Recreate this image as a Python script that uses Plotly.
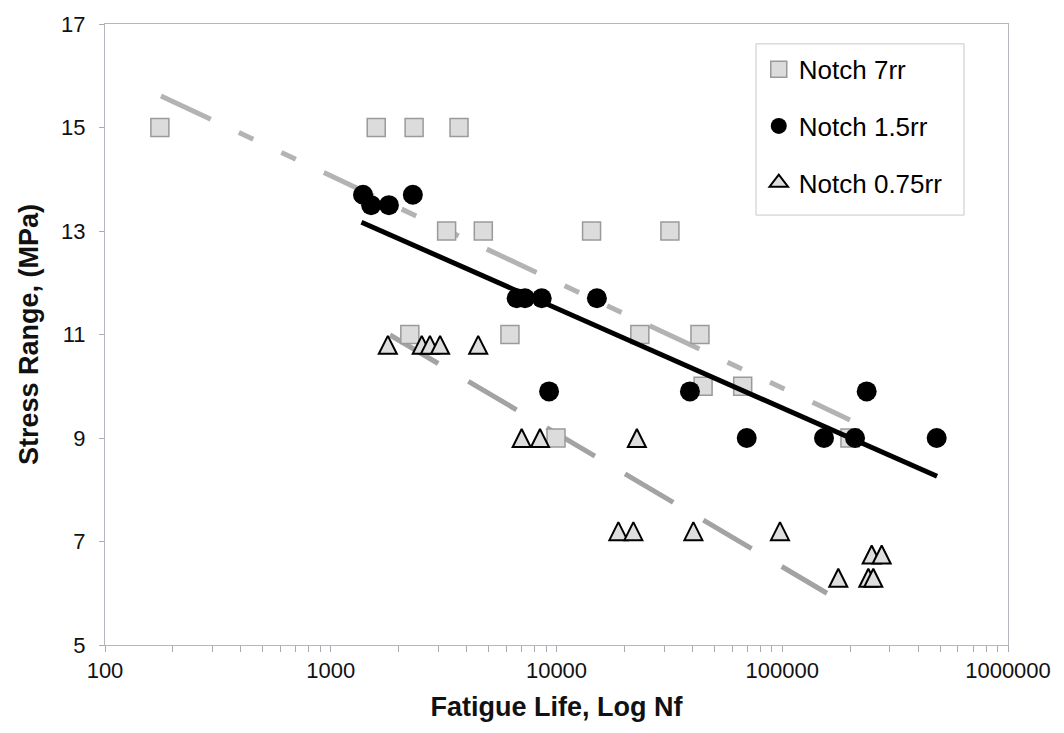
import plotly.graph_objects as go

# ---- data: fatigue life (cycles) vs stress range (MPa) ----
notch7_life = [175, 1590, 2340, 3700, 3260, 4740, 14300, 31800, 2240, 6220,
               23400, 43200, 44600, 66800, 9950, 199500]
notch7_stress = [15, 15, 15, 15, 13, 13, 13, 13, 11, 11, 11, 11, 10, 10, 9, 9]

notch15_life = [1390, 1510, 1810, 2310, 6660, 7250, 8600, 15100, 9270, 39000,
                236600, 69600, 153100, 210100, 483100]
notch15_stress = [13.7, 13.5, 13.5, 13.7, 11.7, 11.7, 11.7, 11.7, 9.9, 9.9,
                  9.9, 9, 9, 9, 9]

notch075_life = [1790, 2530, 2750, 3050, 4500, 7010, 8450, 22700, 18800, 21900,
                 40400, 97700, 249000, 275700, 177100, 240600, 253100]
notch075_stress = [10.8, 10.8, 10.8, 10.8, 10.8, 9, 9, 9, 7.2, 7.2,
                   7.2, 7.2, 6.75, 6.75, 6.3, 6.3, 6.3]

# trend line end points (life, stress)
trend7_life = [177, 199500]
trend7_stress = [15.61, 9.35]
trend15_life = [1368, 484900]
trend15_stress = [13.17, 8.26]
trend075_life = [1830, 157800]
trend075_stress = [10.99, 6.0]

x_tick_vals = [100, 1000, 10000, 100000, 1000000]
x_tick_text = ["100", "1000", "10000", "100000", "1000000"]
y_tick_vals = [5, 7, 9, 11, 13, 15, 17]

FONT = "Arial, 'Liberation Sans', sans-serif"
AXIS_GREY = "#b4b6be"

fig = go.Figure()

# trend lines (drawn beneath the markers)
fig.add_trace(go.Scatter(
    x=trend7_life, y=trend7_stress, mode="lines", showlegend=False,
    hoverinfo="skip",
    line=dict(color="#b3b3b3", width=5,
              dash="55px,31px,16px,31px,16px,31px")))
fig.add_trace(go.Scatter(
    x=trend075_life, y=trend075_stress, mode="lines", showlegend=False,
    hoverinfo="skip",
    line=dict(color="#a3a3a3", width=5, dash="56px,35px")))

fig.add_trace(go.Scatter(
    x=notch7_life, y=notch7_stress, mode="markers", name="Notch 7rr",
    legendgroup="n7",
    marker=dict(symbol="square", size=18, color="#dcdcdc",
                line=dict(color="#9a9a9a", width=1.5))))

fig.add_trace(go.Scatter(
    x=notch15_life, y=notch15_stress, mode="markers", name="Notch 1.5rr",
    legendgroup="n15",
    marker=dict(symbol="circle", size=20, color="#000000",
                line=dict(color="#000000", width=0))))

fig.add_trace(go.Scatter(
    x=trend15_life, y=trend15_stress, mode="lines", showlegend=False,
    hoverinfo="skip",
    line=dict(color="#000000", width=5)))

# upward triangles: a flipped arrow symbol, re-centred on the point
fig.add_trace(go.Scatter(
    x=notch075_life, y=notch075_stress, mode="markers", name="Notch 0.75rr",
    legendgroup="n075", showlegend=False,
    marker=dict(symbol="arrow-down", angle=180, standoff=9, size=18,
                color="#dedede", line=dict(color="#000000", width=2))))
# legend key for the triangles (the legend ignores marker standoff)
fig.add_trace(go.Scatter(
    x=[None], y=[None], mode="markers", name="Notch 0.75rr",
    legendgroup="n075", showlegend=True,
    marker=dict(symbol="triangle-up", size=16, color="#dedede",
                line=dict(color="#000000", width=2))))

# legend frame
fig.add_shape(type="rect", xref="paper", yref="paper",
              x0=0.7209, x1=0.9513, y0=0.6923, y1=0.968,
              layer="above", fillcolor="white",
              line=dict(color="#c8c8c8", width=1))

fig.update_layout(
    width=1064, height=733,
    margin=dict(l=105, r=56, t=21, b=88),
    paper_bgcolor="white", plot_bgcolor="white",
    font=dict(family=FONT, color="#000000"),
    showlegend=True,
    legend=dict(
        x=0.724, y=0.965, xanchor="left", yanchor="top",
        bgcolor="rgba(0,0,0,0)", borderwidth=0,
        font=dict(family=FONT, size=26, color="#000000"),
        tracegroupgap=20, traceorder="grouped",
    ),
    xaxis=dict(
        type="log", range=[2, 6],
        tickvals=x_tick_vals, ticktext=x_tick_text,
        ticks="outside", ticklen=6, tickcolor="#a8aab4",
        minor=dict(dtick="D1", ticks="outside", ticklen=6,
                   tickcolor="#a8aab4", showgrid=False),
        showgrid=False, zeroline=False,
        showline=True, linecolor=AXIS_GREY, linewidth=1, mirror=True,
        tickfont=dict(family=FONT, size=22, color="#111111"),
        title=dict(text="<b>Fatigue Life, Log Nf</b>", standoff=14,
                   font=dict(family=FONT, size=27, color="#111111")),
    ),
    yaxis=dict(
        range=[5, 17], tickvals=y_tick_vals,
        ticks="outside", ticklen=5, tickcolor="#a8aab4",
        ticklabelstandoff=9,
        showgrid=False, zeroline=False,
        showline=True, linecolor=AXIS_GREY, linewidth=1, mirror=True,
        tickfont=dict(family=FONT, size=22, color="#111111"),
        title=dict(text="<b>Stress Range, (MPa)</b>", standoff=14,
                   font=dict(family=FONT, size=27, color="#111111")),
    ),
)

fig.write_html("out.html")
